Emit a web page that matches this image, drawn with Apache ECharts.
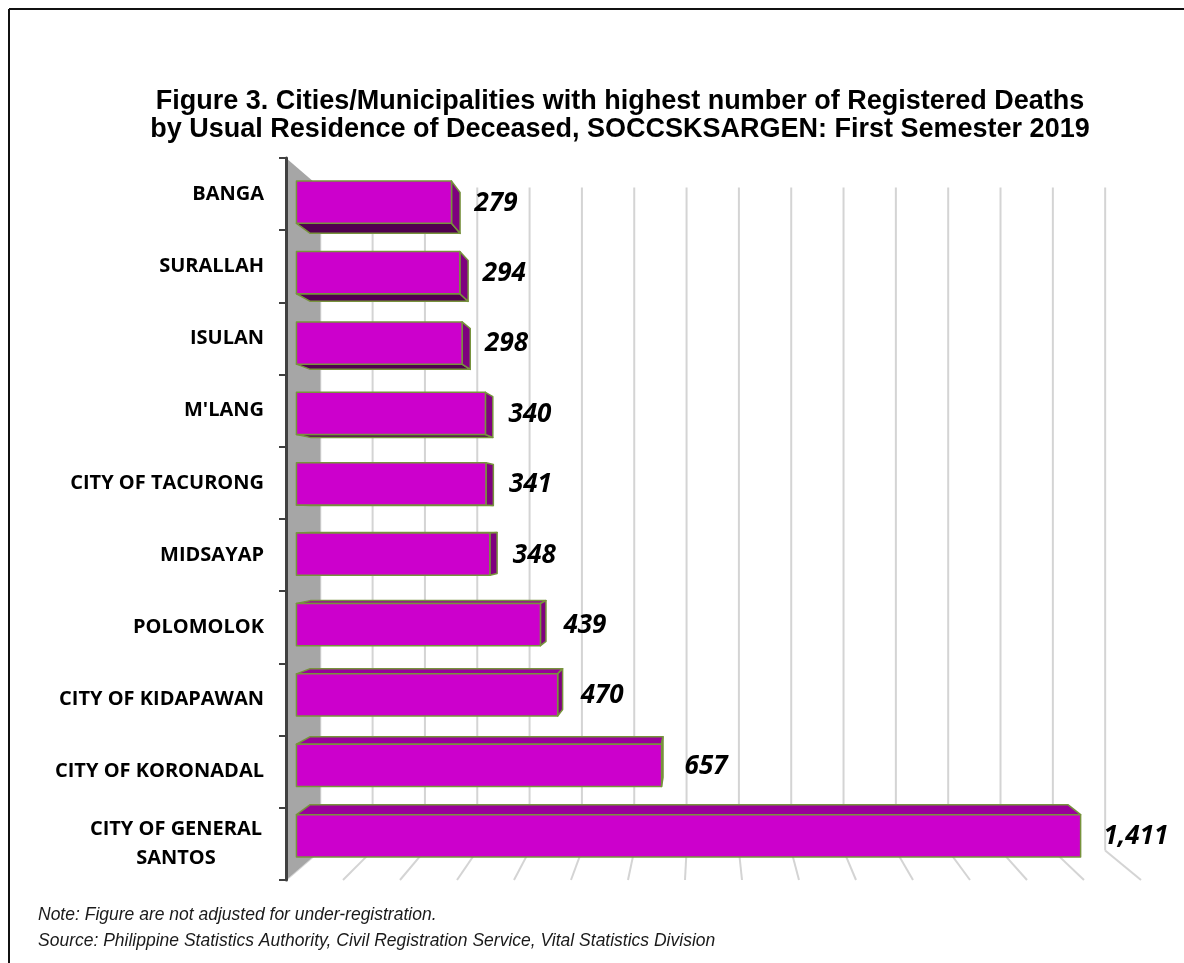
<!DOCTYPE html>
<html>
<head>
<meta charset="utf-8">
<script src="https://cdn.jsdelivr.net/npm/echarts@6/dist/echarts.min.js"></script>
<style>
html,body{margin:0;padding:0;background:#fff;}
#chart{width:1184px;height:963px;}
</style>
</head>
<body>
<div id="chart"></div>
<script>
// ---- data ----
const categories = ['BANGA', 'SURALLAH', 'ISULAN', "M'LANG", 'CITY OF TACURONG', 'MIDSAYAP', 'POLOMOLOK', 'CITY OF KIDAPAWAN', 'CITY OF KORONADAL', 'CITY OF GENERAL SANTOS'];
const deaths = [279, 294, 298, 340, 341, 348, 439, 470, 657, 1411];
const gridTicks = [0, 100, 200, 300, 400, 500, 600, 700, 800, 900, 1000, 1100, 1200, 1300, 1400, 1500];
const titleText = 'Figure 3. Cities/Municipalities with highest number of Registered Deaths\nby Usual Residence of Deceased, SOCCSKSARGEN: First Semester 2019';
const noteText = 'Note: Figure are not adjusted for under-registration.';
const sourceText = 'Source: Philippine Statistics Authority, Civil Registration Service, Vital Statistics Division';

// ---- 3D projection settings (style) ----
const VP_FX = 0.489, VP_FY = 0.5;   // vanishing point, fraction of grid
const S_BAR_FRONT = 0.975, S_BAR_BACK = 0.942, S_WALL = 0.918;
const BAR_RATIO = 0.6;
const STROKE = '#77933C';

function projector(cs) {
  const vpx = cs.x + cs.width * VP_FX, vpy = cs.y + cs.height * VP_FY;
  return { vpx, vpy, P: (x, y, s) => [vpx + (x - vpx) * s, vpy + (y - vpy) * s] };
}

const chart = echarts.init(document.getElementById('chart'), null, { renderer: 'canvas' });

const option = {
  backgroundColor: '#ffffff',
  animation: false,
  grid: { left: 286, top: 158, width: 855, height: 722, containLabel: false },
  xAxis: {
    type: 'value', min: 0, max: 1500, interval: 100,
    axisLine: { show: false }, axisTick: { show: false }, axisLabel: { show: false }, splitLine: { show: false }
  },
  yAxis: {
    type: 'category', data: categories, inverse: true, z: 10,
    axisLine: { show: true, lineStyle: { color: '#404040', width: 3 } },
    axisTick: { show: true, length: 7, lineStyle: { color: '#404040', width: 2 } },
    axisLabel: {
      margin: 22, color: '#000', fontFamily: 'Open Sans', fontWeight: 'bold', fontSize: 20, lineHeight: 29,
      formatter: function (name) {
        if (name.length > 18) {
          const i = name.lastIndexOf(' ');
          return '{c|' + name.slice(0, i) + '}\n{c|' + name.slice(i + 1) + '}';
        }
        return name;
      },
      rich: { c: { width: 176, align: 'center', fontFamily: 'Open Sans', fontWeight: 'bold', fontSize: 20, lineHeight: 29, color: '#000' } }
    }
  },
  graphic: [
    { type: 'line', shape: { x1: 9, y1: 9, x2: 1190, y2: 9 }, style: { stroke: '#111', lineWidth: 2 } },
    { type: 'line', shape: { x1: 9, y1: 9, x2: 9, y2: 970 }, style: { stroke: '#111', lineWidth: 2 } },
    { type: 'text', x: 620, y: 116, style: { text: titleText, align: 'center', verticalAlign: 'middle', fontFamily: 'Liberation Sans, Arial', fontWeight: 'bold', fontSize: 27, lineHeight: 28, fill: '#000' } },
    { type: 'text', x: 38, y: 915, style: { text: noteText, align: 'left', verticalAlign: 'middle', fontFamily: 'Liberation Sans, Arial', fontStyle: 'italic', fontSize: 17.5, fill: '#1a1a1a' } },
    { type: 'text', x: 38, y: 941, style: { text: sourceText, align: 'left', verticalAlign: 'middle', fontFamily: 'Liberation Sans, Arial', fontStyle: 'italic', fontSize: 17.5, fill: '#1a1a1a' } }
  ],
  series: [
    {
      type: 'custom', name: 'walls', z: 1, silent: true, clip: false,
      data: gridTicks.map(v => [v, 0]),
      encode: { x: 0, y: 1 },
      renderItem: function (params, api) {
        const cs = params.coordSys;
        const pr = projector(cs);
        const top = cs.y, bottom = cs.y + cs.height;
        const x = api.coord([api.value(0), 0])[0];
        const children = [];
        const b1 = pr.P(x, top, S_WALL), b2 = pr.P(x, bottom, S_WALL), f2 = pr.P(x, bottom, 1);
        const ls = { stroke: '#d4d4d4', lineWidth: 2 };
        children.push({ type: 'line', shape: { x1: b1[0], y1: b1[1], x2: b2[0], y2: b2[1] }, style: ls });
        children.push({ type: 'line', shape: { x1: b2[0], y1: b2[1], x2: f2[0], y2: f2[1] }, style: ls });
        if (params.dataIndex === 0) {
          const x0 = cs.x;
          children.push({
            type: 'polygon',
            shape: { points: [pr.P(x0, top, 1), pr.P(x0, top, S_WALL), pr.P(x0, bottom, S_WALL), pr.P(x0, bottom, 1)] },
            style: { fill: '#a6a6a6' }
          });
        }
        return { type: 'group', children };
      }
    },
    {
      type: 'custom', name: 'Registered Deaths', z: 3, clip: false,
      data: deaths.map((v, i) => [v, i]),
      encode: { x: 0, y: 1 },
      renderItem: function (params, api) {
        const cs = params.coordSys;
        const pr = projector(cs);
        const v = api.value(0), idx = api.value(1);
        const a = api.coord([0, idx]), b = api.coord([v, idx]);
        const band = api.size([0, 1])[1];
        const h = band * BAR_RATIO;
        const x0 = a[0], x1 = b[0], y0 = a[1] - h / 2, y1 = a[1] + h / 2;
        const f = (x, y) => pr.P(x, y, S_BAR_FRONT);
        const k = (x, y) => pr.P(x, y, S_BAR_BACK);
        const st = (fill) => ({ fill, stroke: STROKE, lineWidth: 1.5, lineJoin: 'round' });
        const children = [];
        if (y0 > pr.vpy) children.push({ type: 'polygon', shape: { points: [f(x0, y0), f(x1, y0), k(x1, y0), k(x0, y0)] }, style: st('#99009a') });
        if (y1 < pr.vpy) children.push({ type: 'polygon', shape: { points: [f(x0, y1), f(x1, y1), k(x1, y1), k(x0, y1)] }, style: st('#50004f') });
        if (x1 < pr.vpx) children.push({ type: 'polygon', shape: { points: [f(x1, y0), f(x1, y1), k(x1, y1), k(x1, y0)] }, style: st('#7f007f') });
        const fr = [f(x0, y0), f(x1, y0), f(x1, y1), f(x0, y1)];
        children.push({ type: 'polygon', shape: { points: fr }, style: st('#cc00cc') });
        const lx = f(x1, a[1])[0] + 23, ly = f(x1, a[1])[1] + 1;
        children.push({
          type: 'text', x: lx, y: ly,
          style: { text: v.toLocaleString('en-US'), align: 'left', verticalAlign: 'middle', fontFamily: 'Open Sans', fontStyle: 'italic', fontWeight: 'bold', fontSize: 26, fill: '#000' }
        });
        return { type: 'group', children };
      }
    }
  ]
};
chart.setOption(option);
</script>
</body>
</html>
